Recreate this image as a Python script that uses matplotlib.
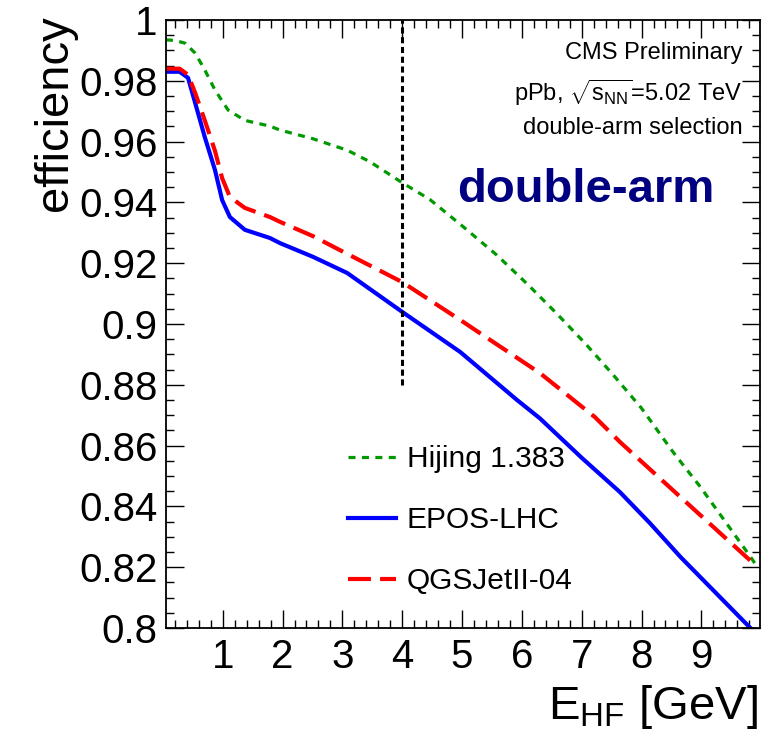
import numpy as np
import matplotlib
matplotlib.use("Agg")
import matplotlib.pyplot as plt
from matplotlib.ticker import MultipleLocator, FormatStrFormatter

plt.rcParams['font.family'] = ['Liberation Sans', 'DejaVu Sans']
plt.rcParams['mathtext.fontset'] = 'custom'
plt.rcParams['mathtext.rm'] = 'Liberation Sans'
plt.rcParams['mathtext.it'] = 'Liberation Sans:italic'

# efficiency vs E_HF threshold
hijing_x = [0.05, 0.2, 0.37, 0.54, 0.70, 0.87, 1.09, 1.37, 1.79, 1.96, 2.5, 3.08, 3.46,
            4.0, 4.46, 5.02, 5.58, 6.11, 6.58, 7.06, 7.53, 8.0, 8.53, 8.98, 9.40, 9.84, 9.93]
hijing_y = [0.9935, 0.9933, 0.9924, 0.9891, 0.9836, 0.977, 0.9704, 0.967, 0.9651, 0.9638,
            0.9610, 0.9572, 0.9534, 0.9465, 0.941, 0.932, 0.9227, 0.9128, 0.9035, 0.8936,
            0.8832, 0.8723, 0.8578, 0.8465, 0.835, 0.8229, 0.8202]

epos_x = [0.05, 0.28, 0.42, 0.54, 0.70, 0.87, 0.99, 1.12, 1.37, 1.79, 1.96, 2.51, 3.08,
          4.0, 4.97, 5.92, 6.30, 7.0, 7.64, 8.14, 8.65, 9.82]
epos_y = [0.983, 0.983, 0.981, 0.9727, 0.9615, 0.9507, 0.9408, 0.9352, 0.931, 0.9283,
          0.9266, 0.9221, 0.9168, 0.904, 0.8908, 0.875, 0.869, 0.856, 0.8447, 0.8345,
          0.8234, 0.800]

qgs_x = [0.05, 0.28, 0.42, 0.54, 0.70, 0.87, 0.99, 1.12, 1.37, 1.79, 1.96, 2.51, 3.01,
         4.0, 5.02, 5.30, 6.30, 7.22, 7.64, 8.65, 9.84, 9.93]
qgs_y = [0.984, 0.984, 0.982, 0.976, 0.967, 0.957, 0.948, 0.9418, 0.9382, 0.9352, 0.9336,
         0.9289, 0.9238, 0.9138, 0.9007, 0.897, 0.8839, 0.8694, 0.8612, 0.8431, 0.8218,
         0.8204]

cut_x = 4.0
cut_ymin = 0.88

fig = plt.figure(figsize=(7.68, 7.32), dpi=100)
ax = fig.add_axes([0.216, 0.142, 0.7736, 0.8306])

ax.plot(hijing_x, hijing_y, color='#009900', lw=2.3, dashes=(2.2, 2.0), label='Hijing 1.383')
ax.plot(epos_x, epos_y, color='#0000ff', lw=3, label='EPOS-LHC')
ax.plot(qgs_x, qgs_y, color='#ff0000', lw=3, dashes=(5.5, 2.2), label='QGSJetII-04')
ax.vlines(cut_x, cut_ymin, 1.0, color='black', lw=2.2, linestyles=(0, (2.0, 1.2)))

ax.set_xlim(0.05, 9.98)
ax.set_ylim(0.8, 1.0)
ax.set_xticks(range(1, 10))
ax.xaxis.set_minor_locator(MultipleLocator(0.2))
ax.yaxis.set_major_locator(MultipleLocator(0.02))
ax.yaxis.set_minor_locator(MultipleLocator(0.005))
ax.yaxis.set_major_formatter(FormatStrFormatter('%g'))
ax.tick_params(which='both', direction='in', top=True, right=True, width=1, labelsize=29)
ax.tick_params(which='major', length=13)
ax.tick_params(which='minor', length=6)
ax.tick_params(axis='y', pad=6)
ax.tick_params(axis='x', pad=7)
for s in ax.spines.values():
    s.set_linewidth(1.3)

ax.set_ylabel('efficiency', fontsize=34, loc='top')
ax.yaxis.set_label_coords(-0.15, 1.008)
ax.set_xlabel(r'E$_{\rm HF}$ [GeV]', fontsize=34, loc='right')
ax.xaxis.set_label_coords(0.997, -0.09)

ax.text(0.971, 0.9457, 'CMS Preliminary', transform=ax.transAxes, ha='right', va='center', fontsize=17)
ax.text(0.971, 0.880, r'pPb, $\sqrt{\rm s_{NN}}$=5.02 TeV', transform=ax.transAxes, ha='right', va='center', fontsize=17)
ax.text(0.971, 0.822, 'double-arm selection', transform=ax.transAxes, ha='right', va='center', fontsize=17)
ax.text(0.924, 0.72, 'double-arm', transform=ax.transAxes, ha='right', va='center',
        fontsize=34, fontweight='bold', color='#000080')

ax.legend(loc='upper left', bbox_to_anchor=(0.282, 0.325), frameon=False, fontsize=21.5,
          handlelength=1.6, handletextpad=0.35, labelspacing=1.1, borderpad=0)

fig.savefig('out.png', dpi=100)
